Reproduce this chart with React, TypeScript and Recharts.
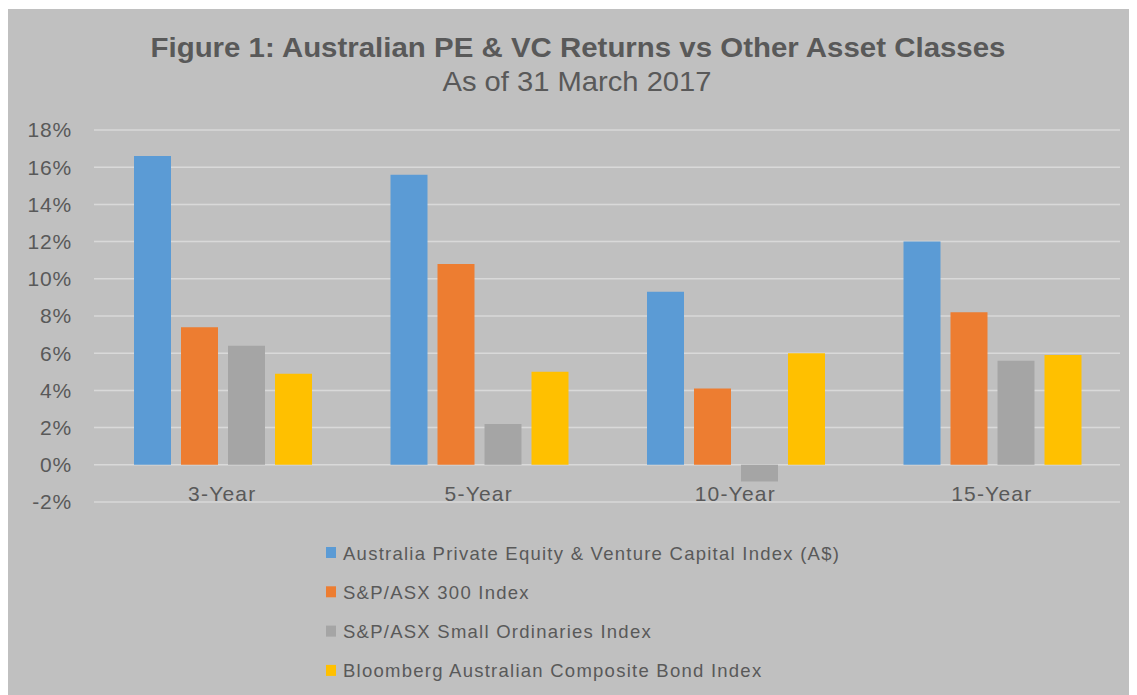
import { BarChart, Bar, XAxis, YAxis, CartesianGrid } from "recharts";

const categories = ["3-Year", "5-Year", "10-Year", "15-Year"];
const peVc = [16.6, 15.6, 9.3, 12.0];
const asx300 = [7.4, 10.8, 4.1, 8.2];
const smallOrds = [6.4, 2.2, -0.9, 5.6];
const bonds = [4.9, 5.0, 6.0, 5.9];
const yTicks = [-2, 0, 2, 4, 6, 8, 10, 12, 14, 16, 18];

const series = [
  { key: "peVc", name: "Australia Private Equity & Venture Capital Index (A$)", color: "#5b9bd5", values: peVc },
  { key: "asx300", name: "S&P/ASX 300 Index", color: "#ed7d31", values: asx300 },
  { key: "smallOrds", name: "S&P/ASX Small Ordinaries Index", color: "#a5a5a5", values: smallOrds },
  { key: "bonds", name: "Bloomberg Australian Composite Bond Index", color: "#ffc000", values: bonds },
];

const data = categories.map((cat, i) => {
  const row: Record<string, string | number> = { cat };
  series.forEach((s) => (row[s.key] = s.values[i]));
  return row;
});

const W = 1129;
const H = 686;
const PLOT_TOP = 121;
const PLOT_BOTTOM = 493;
const TEXT = "#595959";
const FONT = "'Liberation Sans', Arial, sans-serif";

function CatTick(props: any) {
  const { x, payload } = props;
  return (
    <text
      x={x}
      y={PLOT_BOTTOM - 1}
      textAnchor="middle"
      fill={TEXT}
      fontSize={21}
      letterSpacing={1.2}
      fontFamily={FONT}
    >
      {payload.value}
    </text>
  );
}

export default function App() {
  return (
    <div style={{ position: "relative", width: W, height: H, marginTop: 1, background: "#c0c0c0" }}>
      <style>{`body{overflow:hidden}`}</style>
      <BarChart
        width={W}
        height={H}
        data={data}
        margin={{ top: PLOT_TOP, right: 17, left: 26, bottom: H - PLOT_BOTTOM - 30 }}
        barCategoryGap={40}
        barGap={10}
      >
        <CartesianGrid vertical={false} stroke="#d9d9d9" strokeWidth={1.5} />
        <XAxis dataKey="cat" axisLine={false} tickLine={false} height={30} tick={<CatTick />} />
        <YAxis
          width={60}
          domain={[-2, 18]}
          ticks={yTicks}
          axisLine={false}
          tickLine={false}
          tickSize={0}
          tickMargin={22}
          tickFormatter={(v: number) => `${v}%`}
          tick={{ fill: TEXT, fontSize: 21, fontFamily: FONT, letterSpacing: 0.8 }}
        />
        {series.map((s) => (
          <Bar key={s.key} dataKey={s.key} name={s.name} fill={s.color} isAnimationActive={false} />
        ))}
      </BarChart>
      <svg width={W} height={H} style={{ position: "absolute", left: 0, top: 0, pointerEvents: "none" }}>
        <text
          x={570}
          y={48}
          textAnchor="middle"
          fill={TEXT}
          fontSize={28}
          fontWeight="bold"
          fontFamily={FONT}
          textLength={855}
          lengthAdjust="spacingAndGlyphs"
        >
          Figure 1: Australian  PE &amp; VC Returns vs Other Asset Classes
        </text>
        <text
          x={569}
          y={82}
          textAnchor="middle"
          fill={TEXT}
          fontSize={28}
          fontFamily={FONT}
          textLength={269}
          lengthAdjust="spacingAndGlyphs"
        >
          As of 31 March 2017
        </text>
        {series.map((s, i) => (
          <g key={s.key}>
            <rect x={318} y={538 + i * 39.3} width={10} height={11} fill={s.color} />
            <text
              x={335}
              y={544 + i * 39.3}
              dominantBaseline="central"
              fill={TEXT}
              fontSize={18.5}
              letterSpacing={1.25}
              fontFamily={FONT}
            >
              {s.name}
            </text>
          </g>
        ))}
      </svg>
    </div>
  );
}
